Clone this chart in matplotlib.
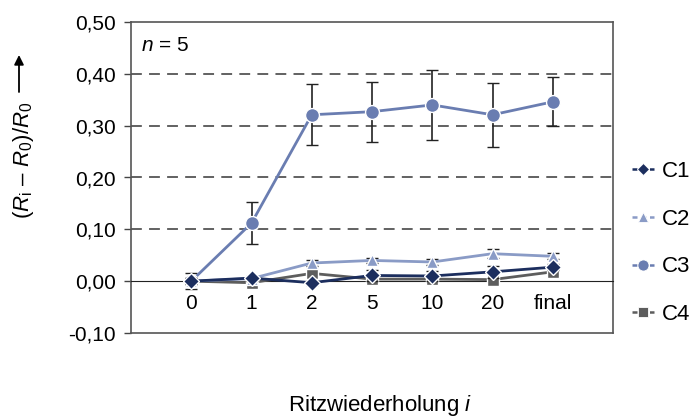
import numpy as np
import matplotlib
matplotlib.use("Agg")
import matplotlib.pyplot as plt
from matplotlib.lines import Line2D

plt.rcParams['font.family'] = ['Liberation Sans', 'DejaVu Sans']
plt.rcParams['mathtext.fontset'] = 'custom'
plt.rcParams['mathtext.rm'] = 'Liberation Sans'
plt.rcParams['mathtext.it'] = 'Liberation Sans:italic'

# data
categories = ["0", "1", "2", "5", "10", "20", "final"]
c1 = [0.000, 0.006, -0.003, 0.011, 0.010, 0.018, 0.027]
c1_err = [0.006, 0.004, 0.004, 0.010, 0.010, 0.012, 0.006]
c2 = [0.000, 0.005, 0.035, 0.040, 0.037, 0.053, 0.048]
c2_err = [0.006, 0.004, 0.006, 0.005, 0.005, 0.009, 0.006]
c3 = [0.000, 0.112, 0.321, 0.327, 0.340, 0.321, 0.346]
c3_err = [0.016, 0.041, 0.059, 0.058, 0.067, 0.062, 0.047]
c4 = [0.000, -0.003, 0.015, 0.004, 0.004, 0.003, 0.018]
c4_err = [0.006, 0.004, 0.004, 0.006, 0.006, 0.006, 0.005]
labels = ["C1", "C2", "C3", "C4"]
colors = ["#1c2e5e", "#8a9bc6", "#6a7db1", "#5d5d5d"]
markers = ["D", "^", "o", "s"]
msizes = [8.5, 9, 10, 9]

fig = plt.figure(figsize=(6.97, 4.19), dpi=100)
ax = fig.add_axes([131/697, 1 - 333/419, 482/697, 311/419])

x = np.arange(len(categories))
series = [(c4, c4_err, 3), (c3, c3_err, 2), (c2, c2_err, 1), (c1, c1_err, 0)]
for vals, errs, k in series:
    ax.errorbar(x, vals, yerr=errs, color=colors[k], marker=markers[k],
                markersize=msizes[k], markeredgecolor="white", markeredgewidth=1.0,
                linewidth=2.0, ecolor="#222222", elinewidth=1.2, capsize=4,
                capthick=1.2, zorder=3 + (3 - k) * 0.1)

ax.set_xlim(-1, 7)
ax.set_ylim(-0.1, 0.5)
ax.set_yticks(np.arange(-0.1, 0.51, 0.1))
ax.set_yticklabels([f"{v:.2f}".replace(".", ",") for v in np.arange(-0.1, 0.51, 0.1)],
                   fontsize=15)
ax.tick_params(axis="y", length=5, width=1, color="#444444", pad=6)

for g in [0.1, 0.2, 0.3, 0.4]:
    ax.axhline(g, color="#555555", lw=1.3, ls=(0, (6, 4)), zorder=1)

# horizontal axis crosses at 0
ax.spines['bottom'].set_position(('data', 0))
ax.spines['bottom'].set_color("#222222")
ax.set_xticks(x)
ax.set_xticklabels(categories, fontsize=15)
ax.tick_params(axis="x", length=0, pad=9)
ax.plot([0, 1], [0, 0], transform=ax.transAxes, color="#555555", lw=1.2, clip_on=False)
for s in ['left', 'right', 'top']:
    ax.spines[s].set_color("#555555")
    ax.spines[s].set_linewidth(1.2)

ax.text(0.02, 0.955, "$n$ = 5", transform=ax.transAxes, fontsize=15, va="top", ha="left")

fig.text(380/697, 1 - 405/419, "Ritzwiederholung $i$", fontsize=16, ha="center", va="center")
fig.text(23/697, 1 - 160/419, "$(R_\\mathrm{i}$ – $R_0)/R_0$", fontsize=16, rotation=90,
         ha="center", va="center")
fig.add_artist(plt.Annotation("", xy=(19/697, 1 - 55/419), xytext=(19/697, 1 - 92/419),
                              xycoords="figure fraction", textcoords="figure fraction",
                              arrowprops=dict(arrowstyle="-|>", color="black", lw=1.3,
                                              mutation_scale=14, shrinkA=0, shrinkB=0)))

handles = [Line2D([], [], color=colors[k], marker=markers[k], markersize=msizes[k] - 2,
                  markeredgecolor="white", markeredgewidth=0.6, ls=(0, (2, 1.5)), lw=1.8)
           for k in range(4)]
fig.legend(handles, labels, loc="center left", bbox_to_anchor=(632/697, 1 - 243/419),
           frameon=False, fontsize=16, handlelength=1.0, handletextpad=0.35,
           labelspacing=1.2, borderpad=0, borderaxespad=0)

fig.savefig("out.png", dpi=100)
